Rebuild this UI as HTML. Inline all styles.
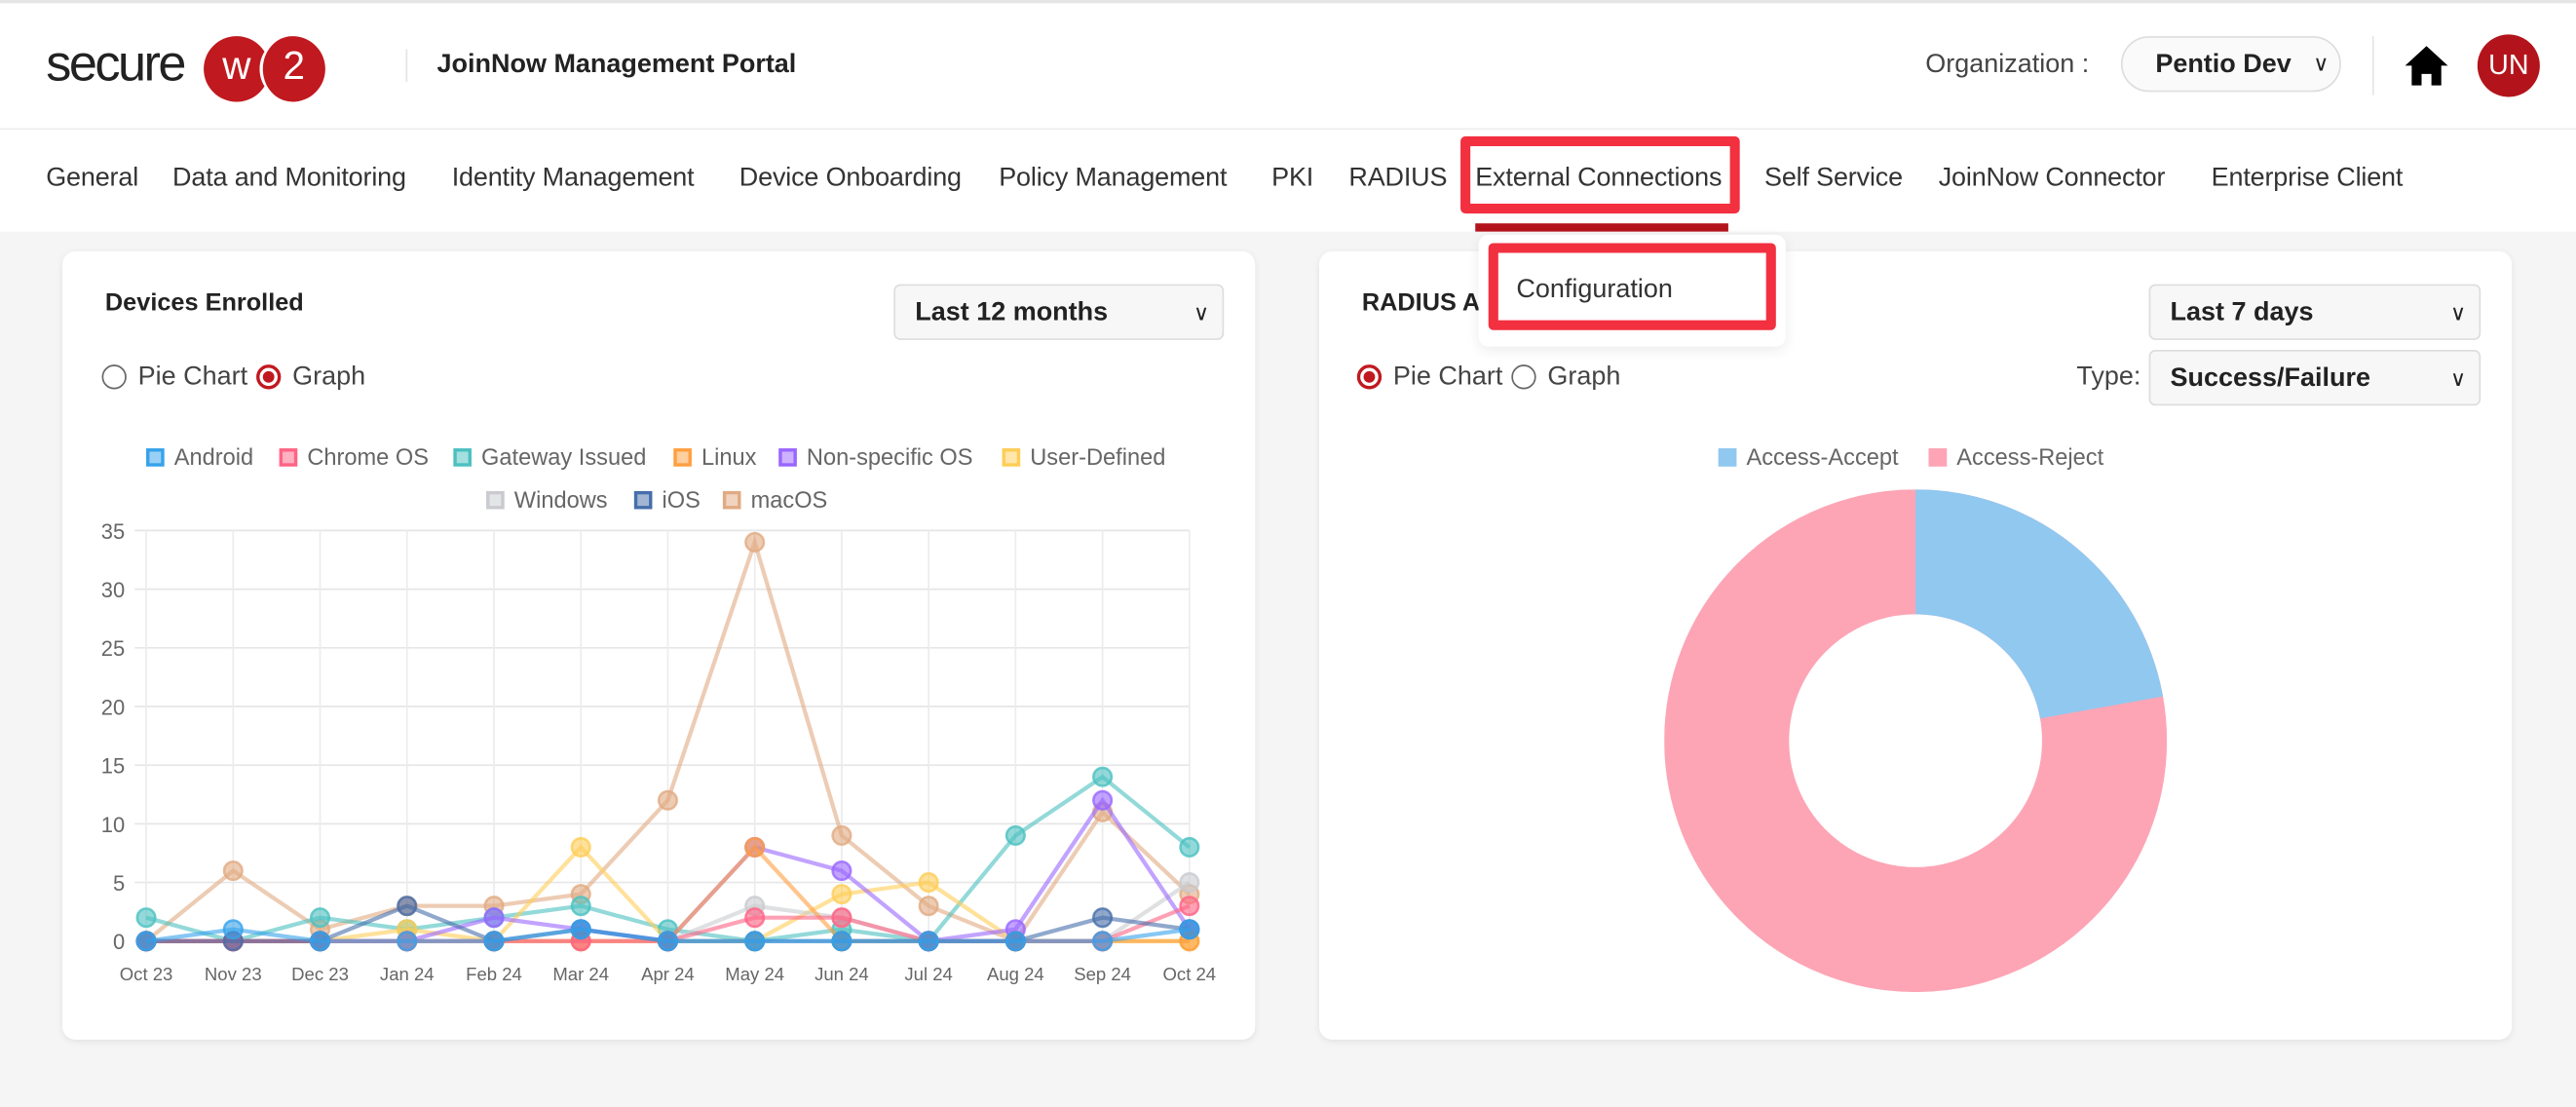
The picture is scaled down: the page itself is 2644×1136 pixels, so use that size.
<!DOCTYPE html>
<html><head><meta charset="utf-8"><style>
html,body{margin:0;padding:0;width:2644px;height:1136px;overflow:hidden;background:#f5f5f5;}
#s{position:absolute;left:0;top:0;width:1568px;height:674px;transform:scale(1.68622,1.68546);transform-origin:0 0;font-family:"Liberation Sans",sans-serif;color:#222;}
.a{position:absolute;white-space:nowrap;}
.card{position:absolute;background:#fff;border-radius:8px;box-shadow:0 1px 4px rgba(0,0,0,0.08);}
.sel{position:absolute;background:#f7f7f7;border:1px solid #ddd;border-radius:4px;font-weight:bold;font-size:16px;box-sizing:border-box;padding-left:12px;}
.sel:after{content:"\2228";position:absolute;right:8px;top:0;font-weight:normal;font-size:13px;}
.nav span{position:absolute;top:100px;font-size:16px;color:#333;letter-spacing:-0.1px;}
.radio{position:absolute;width:15px;height:15px;border:1px solid #666;border-radius:50%;box-sizing:border-box;}
.radio.on{border:2px solid #c0191f;}
.radio.on:after{content:"";position:absolute;left:2px;top:2px;width:7px;height:7px;border-radius:50%;background:#c0191f;}
.lg{position:absolute;font-size:14px;color:#666;}
.sw{display:inline-block;width:11px;height:11px;margin-right:6px;vertical-align:-1px;box-sizing:border-box;border:2px solid;}
</style></head><body><div id="s">
<div class="a" style="left:0;top:0;width:1568px;height:78px;background:#fff;border-top:2px solid #e5e5e5;box-sizing:border-box"></div>
<div class="a" style="left:0;top:78px;width:1568px;height:62px;background:#fff;border-top:1px solid #eee"></div>
<div class="a" style="left:28px;top:21px;font-size:31px;letter-spacing:-1.5px;color:#222">secure</div>
<div class="a" style="left:124px;top:22px;width:40px;height:40px;border-radius:50%;background:#c0191f;color:#fff;font-size:24px;text-align:center;line-height:38px">w</div>
<div class="a" style="left:158px;top:22px;width:40px;height:40px;border-radius:50%;background:#c0191f;color:#fff;font-size:24px;text-align:center;line-height:38px;border-left:2px solid #fff;box-sizing:border-box">2</div>
<div class="a" style="left:247px;top:30px;width:1px;height:20px;background:#e5e5e5"></div>
<div class="a" style="left:266px;top:31px;font-size:16px;font-weight:bold">JoinNow Management Portal</div>
<div class="a" style="left:1172px;top:31px;font-size:16px;color:#444">Organization :</div>
<div class="a" style="left:1291px;top:22px;width:134px;height:34px;border:1px solid #ddd;border-radius:18px;box-sizing:border-box;background:#fafafa"></div>
<div class="a" style="left:1312px;top:31px;font-size:16px;font-weight:bold">Pentio Dev</div>
<div class="a" style="left:1408px;top:31px;font-size:13px">&#8744;</div>
<div class="a" style="left:1444px;top:22px;width:1px;height:36px;background:#e5e5e5"></div>
<svg class="a" style="left:1463px;top:27px" width="28" height="26" viewBox="0 0 28 26"><path d="M14 1 L27 13 L23 13 L23 25 L17 25 L17 18 L11 18 L11 25 L5 25 L5 13 L1 13 Z" fill="#000"/></svg>
<div class="a" style="left:1508px;top:21px;width:38px;height:38px;border-radius:50%;background:#b3141b;color:#fff;font-size:17px;text-align:center;line-height:38px">UN</div>
<div class="nav">
<span style="left:28px">General</span><span style="left:105px">Data and Monitoring</span><span style="left:275px">Identity Management</span><span style="left:450px">Device Onboarding</span><span style="left:608px">Policy Management</span><span style="left:774px">PKI</span><span style="left:821px">RADIUS</span><span style="left:898px">External Connections</span><span style="left:1074px">Self Service</span><span style="left:1180px">JoinNow Connector</span><span style="left:1346px">Enterprise Client</span>
</div>
<div class="a" style="left:889px;top:83px;width:170px;height:47px;border:6px solid #f23040;border-radius:3px;box-sizing:border-box"></div>
<div class="a" style="left:898px;top:136px;width:154px;height:5px;background:#b3141b"></div>
<div class="card" style="left:38px;top:153px;width:726px;height:480px"></div>
<div class="card" style="left:803px;top:153px;width:726px;height:480px"></div>
<div class="a" style="left:64px;top:176px;font-size:15px;font-weight:bold">Devices Enrolled</div>
<div class="sel" style="left:544px;top:173px;width:201px;height:34px;line-height:34px">Last 12 months</div>
<div class="radio" style="left:62px;top:222px"></div><div class="a" style="left:84px;top:221px;font-size:16px;color:#444">Pie Chart</div>
<div class="radio on" style="left:156px;top:222px"></div><div class="a" style="left:178px;top:221px;font-size:16px;color:#444">Graph</div>
<div class="lg" style="left:89px;top:270px"><span class="sw" style="background:rgba(54,162,235,.5);border-color:rgb(54,162,235)"></span>Android</div>
<div class="lg" style="left:170px;top:270px"><span class="sw" style="background:rgba(255,99,132,.5);border-color:rgb(255,99,132)"></span>Chrome OS</div>
<div class="lg" style="left:276px;top:270px"><span class="sw" style="background:rgba(75,192,192,.5);border-color:rgb(75,192,192)"></span>Gateway Issued</div>
<div class="lg" style="left:410px;top:270px"><span class="sw" style="background:rgba(255,159,64,.5);border-color:rgb(255,159,64)"></span>Linux</div>
<div class="lg" style="left:474px;top:270px"><span class="sw" style="background:rgba(153,102,255,.5);border-color:rgb(153,102,255)"></span>Non-specific OS</div>
<div class="lg" style="left:610px;top:270px"><span class="sw" style="background:rgba(255,205,86,.5);border-color:rgb(255,205,86)"></span>User-Defined</div>
<div class="lg" style="left:296px;top:296px"><span class="sw" style="background:rgba(201,203,207,.5);border-color:rgb(201,203,207)"></span>Windows</div>
<div class="lg" style="left:386px;top:296px"><span class="sw" style="background:rgba(70,110,170,.5);border-color:rgb(70,110,170)"></span>iOS</div>
<div class="lg" style="left:440px;top:296px"><span class="sw" style="background:rgba(225,170,130,.5);border-color:rgb(225,170,130)"></span>macOS</div>
<svg id="ch" class="a" style="left:0;top:0" width="1568" height="674"></svg>
<div class="a" style="left:829px;top:176px;font-size:15px;font-weight:bold">RADIUS A</div>
<div class="a" style="left:900px;top:143px;width:187px;height:68px;background:#fff;border-radius:6px;box-shadow:0 2px 8px rgba(0,0,0,0.08)"></div>
<div class="a" style="left:906px;top:148px;width:175px;height:53px;border:6px solid #f23040;border-radius:3px;box-sizing:border-box"></div>
<div class="a" style="left:923px;top:168px;font-size:16px;color:#333">Configuration</div>
<div class="sel" style="left:1308px;top:173px;width:202px;height:34px;line-height:34px">Last 7 days</div>
<div class="a" style="left:1264px;top:221px;font-size:16px;color:#444">Type:</div>
<div class="sel" style="left:1308px;top:213px;width:202px;height:34px;line-height:34px">Success/Failure</div>
<div class="radio on" style="left:826px;top:222px"></div><div class="a" style="left:848px;top:221px;font-size:16px;color:#444">Pie Chart</div>
<div class="radio" style="left:920px;top:222px"></div><div class="a" style="left:942px;top:221px;font-size:16px;color:#444">Graph</div>
<div class="lg" style="left:1046px;top:270px"><span class="sw" style="background:#90c8f0;border-color:#90c8f0"></span>Access-Accept</div>
<div class="lg" style="left:1174px;top:270px"><span class="sw" style="background:#fda5b5;border-color:#fda5b5"></span>Access-Reject</div>
<svg class="a" style="left:1013px;top:298px" width="306" height="306" viewBox="-153 -153 306 306">
<circle r="115" fill="none" stroke="#fda5b5" stroke-width="76"/>
<path d="M0 -153 A153 153 0 0 1 150.6 -27.0 L75.8 -13.6 A77 77 0 0 0 0 -77 Z" fill="#90c8f0"/>
</svg>
</div>
<script>
var svg=document.getElementById('ch'),h='';
var X=function(i){return 89+52.917*i},Y=function(v){return 573-v*7.1429};
for(var v=0;v<=35;v+=5){h+='<line x1="82" x2="724" y1="'+Y(v)+'" y2="'+Y(v)+'" stroke="#e6e6e6"/><text x="76" y="'+(Y(v)+5)+'" text-anchor="end" font-size="13" fill="#666" font-family="Liberation Sans">'+v+'</text>';}
var m=['Oct 23','Nov 23','Dec 23','Jan 24','Feb 24','Mar 24','Apr 24','May 24','Jun 24','Jul 24','Aug 24','Sep 24','Oct 24'];
for(var i=0;i<13;i++){h+='<line x1="'+X(i)+'" x2="'+X(i)+'" y1="323" y2="580" stroke="#ececec"/><text x="'+X(i)+'" y="597" text-anchor="middle" font-size="11" fill="#666" font-family="Liberation Sans">'+m[i]+'</text>';}
var D=[
['225,170,130',[0,6,1,3,3,4,12,34,9,3,0,11,4]],
['75,192,192',[2,0,2,1,2,3,1,0,1,0,9,14,8]],
['255,205,86',[0,0,0,1,0,8,0,0,4,5,0,0,0]],
['201,203,207',[0,0,0,0,0,0,0,3,2,0,0,0,5]],
['153,102,255',[0,0,0,0,2,1,0,8,6,0,1,12,1]],
['255,159,64',[0,0,0,0,0,0,0,8,0,0,0,0,0]],
['255,99,132',[0,0,0,0,0,0,0,2,2,0,0,0,3]],
['70,110,170',[0,0,0,3,0,1,0,0,0,0,0,2,1]],
['54,162,235',[0,1,0,0,0,1,0,0,0,0,0,0,1]]];
D.forEach(function(d){var p=d[1].map(function(v,i){return X(i)+','+Y(v)}).join(' ');
h+='<polyline points="'+p+'" fill="none" stroke="rgba('+d[0]+',0.6)" stroke-width="2.5"/>';
d[1].forEach(function(v,i){h+='<circle cx="'+X(i)+'" cy="'+Y(v)+'" r="5.5" fill="rgba('+d[0]+',0.6)" stroke="rgba('+d[0]+',0.8)" stroke-width="1.5"/>';});});
svg.innerHTML=h;
</script>
</body></html>
